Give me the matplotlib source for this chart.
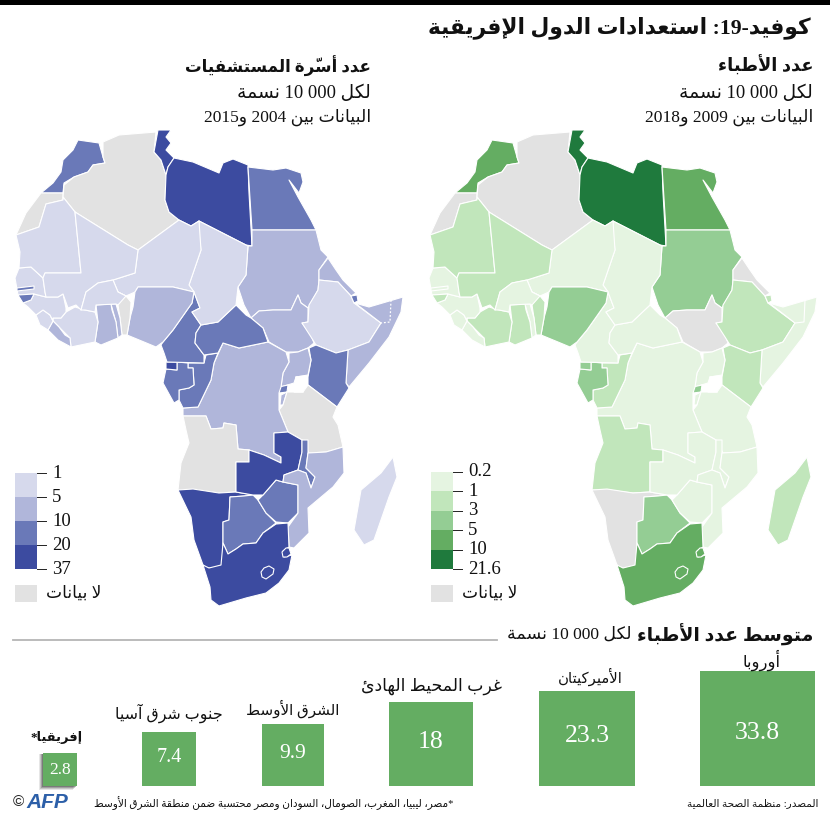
import re

import matplotlib
matplotlib.use("Agg")
import matplotlib.pyplot as plt
import numpy as np
from matplotlib.colors import BoundaryNorm, ListedColormap
from matplotlib.patches import Polygon, Rectangle

# country outlines in map units (traced by hand, no geodata available offline)
OUTLINES = {
    "Morocco": [(492, 140), (513, 143), (517, 157), (519, 163), (507, 165), (502, 172), (488, 177), (478, 183), (477, 193), (455, 193), (467, 183), (475, 172), (477, 160), (487, 150)],
    "Western Sahara": [(455, 193), (477, 193), (477, 200), (460, 204), (453, 227), (430, 235), (440, 213)],
    "Algeria": [(517, 142), (533, 135), (570, 132), (568, 152), (575, 160), (580, 175), (579, 200), (583, 212), (593, 220), (552, 250), (542, 245), (489, 212), (477, 197), (478, 185), (488, 177), (502, 172), (507, 165), (519, 163), (517, 157)],
    "Tunisia": [(572, 130), (585, 130), (580, 137), (585, 143), (580, 150), (588, 158), (582, 167), (580, 175), (575, 160), (568, 152)],
    "Libya": [(588, 158), (607, 162), (633, 173), (637, 163), (647, 159), (662, 165), (663, 193), (666, 246), (660, 245), (613, 221), (605, 226), (593, 220), (583, 212), (579, 200), (580, 175), (582, 167)],
    "Egypt": [(662, 167), (687, 170), (700, 168), (715, 173), (717, 182), (713, 193), (703, 180), (712, 197), (725, 220), (730, 230), (666, 230)],
    "Sudan": [(666, 230), (730, 230), (735, 250), (742, 257), (733, 270), (733, 280), (732, 290), (722, 308), (715, 303), (712, 295), (705, 310), (687, 310), (673, 311), (665, 318), (658, 305), (652, 287), (660, 275), (662, 246), (666, 246)],
    "South Sudan": [(665, 318), (673, 311), (687, 310), (705, 310), (712, 295), (715, 303), (722, 308), (722, 322), (716, 323), (725, 335), (728, 343), (722, 348), (712, 352), (700, 352), (683, 342), (677, 328)],
    "Eritrea": [(742, 258), (750, 270), (757, 280), (770, 293), (765, 296), (752, 282), (733, 280), (733, 270)],
    "Ethiopia": [(733, 280), (752, 282), (765, 296), (768, 303), (795, 323), (783, 342), (762, 350), (750, 353), (730, 345), (725, 337), (716, 323), (722, 322), (723, 305), (732, 290)],
    "Djibouti": [(765, 296), (771, 295), (772, 301), (768, 303)],
    "Somalia": [(769, 303), (783, 307), (800, 302), (817, 297), (815, 312), (803, 337), (783, 363), (763, 387), (760, 383), (762, 350), (783, 342), (795, 323)],
    "Kenya": [(723, 348), (730, 345), (750, 353), (762, 350), (760, 383), (763, 388), (751, 407), (722, 385), (722, 377), (725, 360)],
    "Uganda": [(703, 353), (712, 352), (722, 348), (725, 360), (722, 375), (710, 377), (708, 383), (695, 387), (697, 373), (703, 362)],
    "Rwanda": [(693, 387), (702, 385), (701, 392), (693, 393)],
    "Burundi": [(695, 395), (701, 392), (697, 405), (694, 405)],
    "Tanzania": [(701, 392), (708, 392), (717, 392), (722, 385), (751, 407), (747, 417), (752, 425), (757, 447), (740, 452), (723, 453), (716, 440), (702, 432), (693, 410), (697, 405)],
    "DR Congo": [(637, 343), (653, 348), (682, 342), (700, 352), (703, 362), (697, 373), (695, 387), (693, 393), (693, 410), (702, 432), (688, 433), (688, 453), (695, 457), (695, 463), (678, 455), (663, 450), (652, 449), (650, 425), (638, 423), (637, 428), (625, 429), (620, 416), (597, 416), (597, 408), (612, 407), (625, 380), (628, 363)],
    "Congo": [(632, 353), (620, 355), (618, 363), (602, 363), (602, 368), (607, 368), (608, 385), (603, 388), (593, 390), (593, 400), (597, 408), (612, 407), (625, 380), (628, 363)],
    "Gabon": [(580, 369), (591, 370), (591, 362), (602, 363), (602, 368), (607, 368), (608, 385), (603, 388), (593, 390), (593, 400), (588, 403), (577, 383)],
    "Equatorial Guinea": [(580, 362), (591, 362), (591, 370), (580, 369)],
    "Cameroon": [(577, 342), (587, 330), (606, 303), (608, 292), (614, 308), (606, 312), (615, 325), (610, 333), (609, 343), (618, 355), (618, 363), (581, 362), (578, 353), (575, 345)],
    "CAR": [(610, 333), (615, 325), (632, 322), (650, 305), (660, 315), (665, 318), (677, 328), (682, 342), (653, 348), (637, 343), (632, 353), (618, 355), (609, 343)],
    "Chad": [(613, 221), (660, 245), (662, 246), (660, 275), (652, 287), (650, 305), (632, 322), (615, 325), (606, 312), (614, 308), (608, 292), (603, 285), (615, 250), (613, 233)],
    "Niger": [(552, 250), (593, 220), (605, 226), (613, 221), (615, 250), (603, 285), (608, 292), (587, 287), (552, 287), (549, 292), (540, 296), (532, 292), (527, 280), (549, 273)],
    "Nigeria": [(552, 287), (587, 287), (608, 292), (606, 303), (587, 330), (577, 342), (570, 347), (558, 342), (541, 335), (544, 318), (547, 307), (549, 292)],
    "Benin": [(540, 296), (545, 302), (544, 318), (541, 335), (536, 335), (534, 318), (532, 305), (532, 292)],
    "Togo": [(525, 304), (530, 304), (534, 318), (536, 335), (532, 338), (530, 322)],
    "Ghana": [(510, 305), (525, 304), (526, 310), (530, 322), (532, 338), (515, 345), (509, 342), (512, 322)],
    "Ivory Coast": [(480, 312), (489, 307), (499, 310), (509, 312), (512, 322), (509, 342), (485, 347), (484, 338), (473, 327), (467, 321), (467, 318), (475, 318)],
    "Liberia": [(462, 330), (467, 321), (473, 327), (479, 335), (484, 338), (485, 347), (472, 340)],
    "Sierra Leone": [(450, 315), (457, 310), (464, 315), (467, 321), (462, 330), (454, 325)],
    "Guinea": [(437, 303), (445, 300), (448, 294), (460, 297), (472, 297), (477, 294), (480, 308), (480, 312), (475, 318), (467, 318), (467, 321), (464, 315), (457, 310), (450, 315), (442, 307)],
    "Senegal": [(433, 268), (445, 267), (457, 278), (459, 292), (460, 297), (448, 294), (432, 295), (429, 278)],
    "Gambia": [(431, 288), (448, 286), (448, 289), (431, 291)],
    "Guinea-Bissau": [(432, 295), (448, 294), (445, 300), (437, 303)],
    "Mauritania": [(430, 235), (453, 227), (460, 204), (477, 200), (477, 197), (489, 212), (495, 273), (459, 273), (457, 278), (445, 267), (433, 268), (434, 252)],
    "Mali": [(489, 212), (542, 245), (552, 250), (549, 273), (527, 280), (512, 283), (500, 292), (495, 310), (490, 305), (482, 308), (477, 294), (472, 297), (460, 297), (459, 292), (457, 278), (459, 273), (495, 273)],
    "Burkina Faso": [(527, 280), (532, 292), (540, 296), (532, 305), (530, 304), (510, 305), (509, 312), (499, 310), (495, 310), (500, 292), (512, 283)],
    "Angola": [(597, 416), (620, 416), (625, 429), (637, 428), (638, 423), (650, 425), (652, 449), (663, 450), (663, 462), (650, 462), (650, 480), (650, 492), (633, 493), (607, 490), (592, 490), (595, 463), (603, 443), (600, 430)],
    "Namibia": [(592, 490), (607, 489), (633, 493), (650, 492), (667, 495), (658, 496), (644, 497), (643, 520), (637, 522), (637, 563), (633, 568), (620, 568), (617, 565), (608, 540), (605, 517)],
    "Botswana": [(644, 497), (658, 496), (667, 495), (672, 500), (680, 513), (690, 523), (677, 533), (670, 543), (657, 544), (650, 549), (642, 554), (637, 543), (637, 522), (643, 520)],
    "Zimbabwe": [(672, 500), (677, 495), (690, 480), (697, 482), (712, 485), (712, 513), (702, 523), (690, 522), (680, 513)],
    "Zambia": [(663, 450), (678, 455), (695, 463), (695, 457), (688, 453), (688, 433), (702, 432), (716, 440), (716, 452), (712, 470), (698, 475), (697, 482), (690, 480), (677, 495), (667, 495), (650, 492), (650, 462), (663, 462)],
    "Malawi": [(716, 440), (722, 440), (722, 453), (720, 468), (729, 477), (725, 488), (720, 473), (712, 470), (716, 452)],
    "Mozambique": [(757, 447), (758, 473), (747, 487), (722, 508), (723, 533), (708, 548), (703, 547), (702, 527), (712, 513), (712, 485), (697, 482), (698, 475), (712, 470), (720, 473), (725, 488), (729, 477), (720, 468), (722, 453), (740, 452)],
    "South Africa": [(690, 524), (702, 523), (703, 547), (697, 551), (698, 557), (706, 555), (703, 570), (693, 583), (680, 593), (660, 598), (633, 606), (625, 600), (624, 587), (617, 565), (623, 568), (635, 565), (637, 543), (642, 554), (650, 549), (657, 544), (670, 543), (677, 533)],
    "Eswatini": [(696, 552), (700, 548), (703, 548), (705, 554), (701, 557), (697, 557)],
    "Lesotho": [(675, 572), (678, 568), (683, 566), (688, 569), (687, 574), (680, 579), (676, 577)],
    "Madagascar": [(807, 457), (811, 477), (803, 497), (788, 540), (778, 545), (768, 530), (775, 490), (795, 473)],
}
LAKE_VICTORIA = [(710, 377), (720, 376), (717, 392), (708, 392)]
SOMALI_BORDER = [(805, 300), (804, 322), (795, 323)]

# values estimated from the colour classes of each map, None = no data
DOCTORS = {
    "Morocco": 7.3, "Western Sahara": None, "Algeria": None, "Tunisia": 12.7, "Libya": 21.6,
    "Egypt": 7.9, "Sudan": 4.1, "South Sudan": None, "Eritrea": None, "Ethiopia": 1.5,
    "Djibouti": 2.2, "Somalia": 0.2, "Kenya": 2.0, "Uganda": 0.9, "Rwanda": 3.4,
    "Burundi": 0.5, "Tanzania": 0.4, "DR Congo": 0.9, "Congo": 1.6, "Gabon": 4.0,
    "Equatorial Guinea": 4.0, "Cameroon": 0.9, "CAR": 0.6, "Chad": 0.5, "Niger": 0.4,
    "Nigeria": 3.8, "Benin": 1.6, "Togo": 0.8, "Ghana": 1.8, "Ivory Coast": 2.3,
    "Liberia": 0.4, "Sierra Leone": 0.3, "Guinea": 0.8, "Senegal": 0.7, "Gambia": 0.8,
    "Guinea-Bissau": 1.3, "Mauritania": 1.9, "Mali": 1.4, "Burkina Faso": 0.8, "Angola": 2.1,
    "Namibia": None, "Botswana": 3.7, "Zimbabwe": 0.8, "Zambia": 0.9, "Malawi": 0.4,
    "Mozambique": 0.8, "South Africa": 9.1, "Eswatini": 7.0, "Lesotho": 7.0, "Madagascar": 1.4,
}
BEDS = {
    "Morocco": 11, "Western Sahara": None, "Algeria": None, "Tunisia": 23, "Libya": 37,
    "Egypt": 16, "Sudan": 8, "South Sudan": 8, "Eritrea": 7, "Ethiopia": 3,
    "Djibouti": 14, "Somalia": 8, "Kenya": 14, "Uganda": 6, "Rwanda": 16,
    "Burundi": 8, "Tanzania": None, "DR Congo": 8, "Congo": 16, "Gabon": 13,
    "Equatorial Guinea": 21, "Cameroon": 13, "CAR": 12, "Chad": 4, "Niger": 4,
    "Nigeria": 8, "Benin": None, "Togo": 7, "Ghana": 9, "Ivory Coast": 4,
    "Liberia": 8, "Sierra Leone": 4, "Guinea": 3, "Senegal": 3, "Gambia": 11,
    "Guinea-Bissau": 12, "Mauritania": 4, "Mali": 2, "Burkina Faso": 4, "Angola": None,
    "Namibia": 27, "Botswana": 18, "Zimbabwe": 17, "Zambia": 21, "Malawi": 13,
    "Mozambique": 7, "South Africa": 28, "Eswatini": 21, "Lesotho": 21, "Madagascar": 2,
}

GREEN_BREAKS = [0.2, 1, 3, 5, 10, 21.6]
GREEN_LABELS = ["0.2", "1", "3", "5", "10", "21.6"]
GREEN_COLORS = ["#e5f4e1", "#c1e6bb", "#94cd94", "#64ad62", "#1f7a3d"]
BLUE_BREAKS = [1, 5, 10, 20, 37]
BLUE_LABELS = ["1", "5", "10", "20", "37"]
BLUE_COLORS = ["#d6d9ec", "#b0b6da", "#6a79b8", "#3c4ba0"]
NO_DATA = "#e2e2e2"

REGIONS = ["أوروبا", "الأميركيتان", "غرب المحيط الهادئ", "الشرق الأوسط", "جنوب شرق آسيا", "إفريقيا*"]
REGION_VALUES = [33.8, 23.3, 18, 9.9, 7.4, 2.8]

GREEN_BAR = "#64ad62"
SANS = ["Liberation Serif", "DejaVu Sans"]

# matplotlib has no arabic shaping, so map to presentation forms and reverse
DUAL = dict(zip("ئبتثجحخسشصضطظعغفقكلمنهي", [0xFE89, 0xFE8F, 0xFE95, 0xFE99, 0xFE9D, 0xFEA1, 0xFEA5, 0xFEB1, 0xFEB5, 0xFEB9, 0xFEBD, 0xFEC1, 0xFEC5, 0xFEC9, 0xFECD, 0xFED1, 0xFED5, 0xFED9, 0xFEDD, 0xFEE1, 0xFEE5, 0xFEE9, 0xFEF1]))
RIGHT = dict(zip("آأؤإاةدذرزوى", [0xFE81, 0xFE83, 0xFE85, 0xFE87, 0xFE8D, 0xFE93, 0xFEA9, 0xFEAB, 0xFEAD, 0xFEAF, 0xFEED, 0xFEEF]))
LAM_ALEF = {"آ": 0xFEF5, "أ": 0xFEF7, "إ": 0xFEF9, "ا": 0xFEFB}
SHADDA = "\u0651"


def shape(text):
    out = []
    joined = False
    i = 0
    while i < len(text):
        digits = re.match(r"\d[\d .]*\d|\d", text[i:])
        c = text[i]
        if digits:
            out.append(digits.group())
            i += digits.end()
            joined = False
        elif c == "ل" and text[i + 1:i + 2] in LAM_ALEF and text[i + 1:i + 2]:
            out.append(chr(LAM_ALEF[text[i + 1]] + int(joined)))
            i += 2
            joined = False
        elif c in DUAL or c in RIGHT:
            j = i + 1
            mark = ""
            if text[j:j + 1] == SHADDA:
                mark = SHADDA
                j += 1
            following = text[j:j + 1]
            connects = c in DUAL and bool(following) and (following in DUAL or following in RIGHT)
            if c in DUAL:
                form = (3 if connects else 1) if joined else (2 if connects else 0)
                out.append(chr(DUAL[c] + form) + mark)
            else:
                out.append(chr(RIGHT[c] + int(joined)) + mark)
            joined = connects
            i = j
        else:
            out.append(c)
            joined = False
            i += 1
    return "".join(reversed(out))


def put_text(ax, x, y, text, width, ha="right", weight="normal", color="#111111"):
    # size the label so it spans the same width as in the reference
    label = ax.text(x, y, shape(text), ha=ha, va="center", family=SANS, weight=weight,
                    color=color, fontsize=12)
    renderer = ax.figure.canvas.get_renderer()
    measured = label.get_window_extent(renderer).width
    label.set_fontsize(12 * width / measured)
    return label


def draw_map(ax, values, breaks, colors):
    cmap = ListedColormap(colors)
    norm = BoundaryNorm(breaks, len(colors))
    for name, outline in OUTLINES.items():
        value = values[name]
        face = NO_DATA if value is None else cmap(norm(value))
        ax.add_patch(Polygon(outline, closed=True, facecolor=face, edgecolor="white",
                             linewidth=0.8, joinstyle="round"))
    ax.add_patch(Polygon(LAKE_VICTORIA, closed=True, facecolor="white", edgecolor="white"))
    ax.set_xlim(420, 830)
    ax.set_ylim(615, 125)
    ax.axis("off")


def draw_legend(ax, x, labels, colors, top, bottom):
    edges = np.linspace(top, bottom, len(labels))
    for k, color in enumerate(colors):
        ax.add_patch(Rectangle((x, edges[k]), 22, edges[k + 1] - edges[k], facecolor=color, edgecolor="none"))
    for edge, label in zip(edges, labels):
        ax.plot([x + 22, x + 31], [edge, edge], color="#222222", lw=0.7)
        ax.text(x + 37, edge, label, va="center", ha="left", family="Liberation Serif",
                fontsize=13.5, color="#111111")
    ax.add_patch(Rectangle((x, 585), 22, 17, facecolor=NO_DATA, edgecolor="none"))
    put_text(ax, x + 86, 594, "لا بيانات", 55)


fig = plt.figure(figsize=(8.30, 8.21), dpi=100)
canvas = fig.add_axes([0, 0, 1, 1])
canvas.set_xlim(0, 830)
canvas.set_ylim(821, 0)
canvas.axis("off")

# both maps share the same map units, the blue one sits 414 px further left
map_width = 410 / 830
map_height = 490 / 821
map_bottom = 1 - 615 / 821
ax_green = fig.add_axes([420 / 830, map_bottom, map_width, map_height])
ax_blue = fig.add_axes([6 / 830, map_bottom, map_width, map_height])
draw_map(ax_green, DOCTORS, GREEN_BREAKS, GREEN_COLORS)
draw_map(ax_blue, BEDS, BLUE_BREAKS, BLUE_COLORS)
xs, ys = zip(*SOMALI_BORDER)
ax_green.plot(xs, ys, color="white", lw=0.8)
ax_blue.plot(xs, ys, color="white", lw=0.9, ls=(0, (1.5, 1.5)))

canvas.add_patch(Rectangle((0, 0), 830, 5, facecolor="black", edgecolor="none"))
put_text(canvas, 811, 28, "كوفيد-19: استعدادات الدول الإفريقية", 383, weight="bold")

put_text(canvas, 813, 66, "عدد الأطباء", 95, weight="bold")
put_text(canvas, 813, 93, "لكل 10 000 نسمة", 133)
put_text(canvas, 813, 117, "البيانات بين 2009 و2018", 167)
put_text(canvas, 371, 66, "عدد أسرّة المستشفيات", 185, weight="bold")
put_text(canvas, 371, 93, "لكل 10 000 نسمة", 133)
put_text(canvas, 371, 117, "البيانات بين 2004 و2015", 167)

draw_legend(canvas, 431, GREEN_LABELS, GREEN_COLORS, 472, 569)
draw_legend(canvas, 15, BLUE_LABELS, BLUE_COLORS, 473, 569)

canvas.plot([13, 497], [640, 640], color="#b5b5b5", lw=1.3)
put_text(canvas, 813, 635, "متوسط عدد الأطباء", 176, weight="bold")
put_text(canvas, 632, 635, "لكل 10 000 نسمة", 124)

# squares: the area follows the value
centres = [757.5, 587, 431, 293, 169, 60]
label_y = [660, 677, 686, 709, 713, 737]
label_x = [762, 590, 431, 293, 169, 57]
label_w = [38, 65, 140, 93, 108, 52]
value_y = [733, 736, 742, 753, 758, 770]
value_size = [18.5, 18.5, 18.5, 15.5, 14.5, 12.5]
baseline = 786
scale = 115 / np.sqrt(REGION_VALUES[0])
for k, (region, value) in enumerate(zip(REGIONS, REGION_VALUES)):
    side = scale * np.sqrt(value)
    left = centres[k] - side / 2
    if region.startswith("إفريقيا"):
        for grow, alpha in zip([4, 3, 2, 1], [0.12, 0.18, 0.25, 0.35]):
            canvas.add_patch(Rectangle((left - grow, baseline - side + 1), side, side + grow - 1,
                                       facecolor="#333333", edgecolor="none", alpha=alpha))
    canvas.add_patch(Rectangle((left, baseline - side), side, side, facecolor=GREEN_BAR, edgecolor="none"))
    canvas.text(centres[k], value_y[k], f"{value:g}", color="white", ha="center", va="center",
                family="Liberation Serif", fontsize=value_size[k])
    put_text(canvas, label_x[k], label_y[k], region, label_w[k], ha="center",
             weight="bold" if k == 5 else "normal")

put_text(canvas, 818, 803, "المصدر: منظمة الصحة العالمية", 131)
put_text(canvas, 453, 803, "*مصر، ليبيا، المغرب، الصومال، السودان ومصر محتسبة ضمن منطقة الشرق الأوسط", 361)
canvas.text(68, 802, "AFP", ha="right", va="center", family="Liberation Sans", weight="bold",
            style="italic", color="#2c5fa8", fontsize=15)
canvas.text(18, 802, "©", ha="center", va="center", family="Liberation Sans", color="#222222", fontsize=11)

fig.savefig("out.png", dpi=100, facecolor="white")
